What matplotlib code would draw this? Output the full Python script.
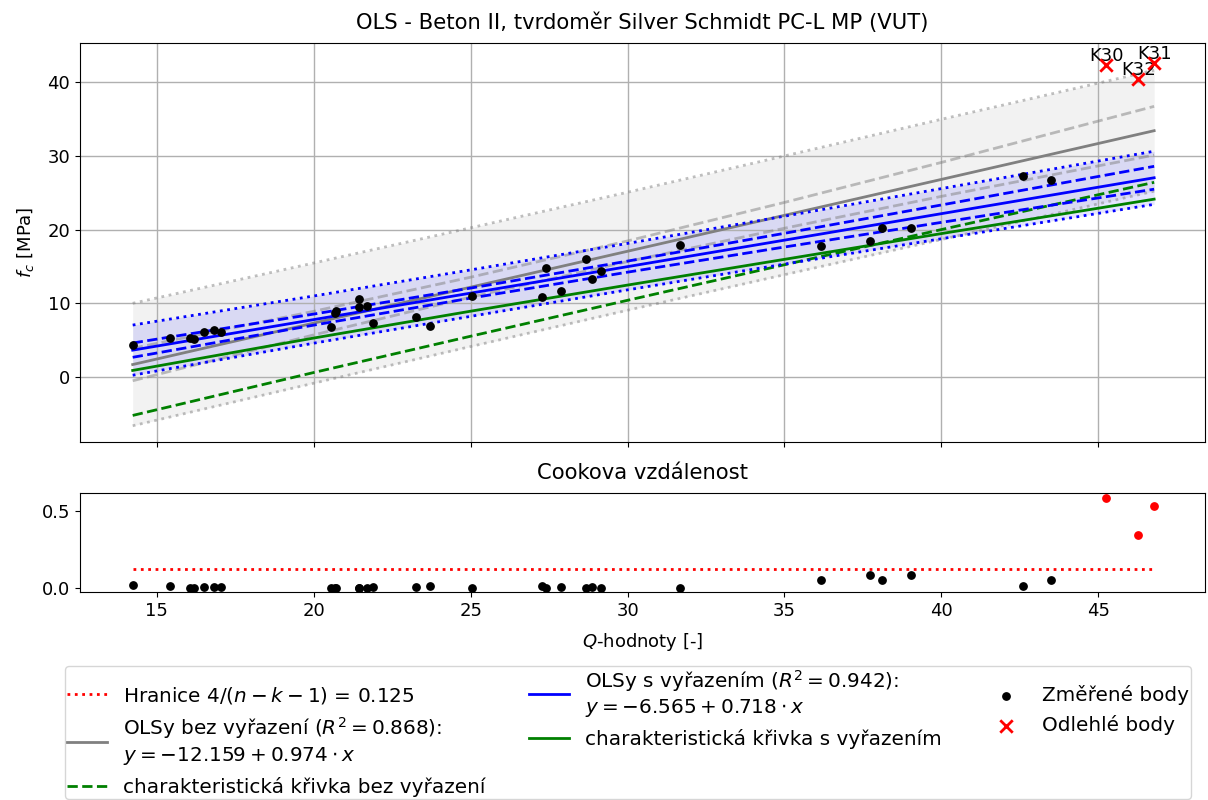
import numpy as np
import matplotlib
matplotlib.use('Agg')
import matplotlib.pyplot as plt

plt.rcParams['font.size'] = 13

# measured points (Q-value, f_c) and their Cook's distance
q_meas = [14.23, 15.41, 16.06, 16.19, 16.50, 16.82, 17.04,
          20.55, 20.67, 20.72, 21.44, 21.44, 21.71, 21.89,
          23.25, 23.72, 25.04, 27.27, 27.41, 27.87, 28.66, 28.86, 29.16,
          31.66, 36.15, 37.71, 38.10, 39.04, 42.60, 43.50]
fc_meas = [4.30, 5.25, 5.30, 5.10, 6.06, 6.38, 6.15,
           6.74, 8.70, 9.00, 10.58, 9.54, 9.63, 7.37,
           8.14, 6.92, 11.03, 10.81, 14.75, 11.67, 16.00, 13.30, 14.38,
           17.90, 17.82, 18.50, 20.26, 20.17, 27.23, 26.73]
cook_meas = [0.016, 0.011, 0.001, 0.001, 0.004, 0.004, 0.002,
             0.001, 0.001, 0.001, 0.001, 0.001, 0.001, 0.002,
             0.004, 0.014, 0.000, 0.009, 0.001, 0.007, 0.001, 0.003, 0.001,
             0.000, 0.048, 0.081, 0.048, 0.081, 0.011, 0.048]

# outliers
q_out = [45.26, 46.27, 46.78]
fc_out = [42.3, 40.4, 42.6]
cook_out = [0.59, 0.344, 0.534]
out_names = ['K30', 'K32', 'K31']

cook_limit = 0.125

# regression coefficients from the legend
b0_all, b1_all, r2_all = -12.159, 0.974, 0.868
b0_cl, b1_cl, r2_cl = -6.565, 0.718, 0.942

# band half-widths / offsets read at these Q values
q_band = [14.23, 20.0, 25.0, 30.0, 35.0, 40.0, 46.78]
pi_all_hw = [8.30, 8.15, 8.05, 8.00, 8.05, 8.15, 8.20]
ci_all_hw = [2.20, 1.60, 1.35, 1.40, 1.75, 2.30, 3.30]
pi_cl_hw = [3.40, 3.20, 3.15, 3.15, 3.25, 3.40, 3.60]
ci_cl_hw = [0.97, 0.75, 0.68, 0.75, 0.93, 1.18, 1.55]
char_all_off = [6.90, 6.70, 6.65, 6.65, 6.70, 6.80, 7.00]
char_cl_off = [2.75, 2.50, 2.45, 2.50, 2.60, 2.70, 2.90]

qb = np.array(q_band)
line_all = b0_all + b1_all * qb
line_cl = b0_cl + b1_cl * qb

fig = plt.figure(figsize=(12.08, 8), dpi=100)
ax = fig.add_axes([0.0662, 0.4475, 0.9313, 0.4988])
ax2 = fig.add_axes([0.0662, 0.26, 0.9313, 0.12375], sharex=ax)

# bands without removal
ax.fill_between(qb, line_all - np.array(pi_all_hw), line_all + np.array(pi_all_hw),
                color='gray', alpha=0.1, lw=0)
ax.plot(qb, line_all + np.array(pi_all_hw), ':', color='gray', alpha=0.5, lw=2)
ax.plot(qb, line_all - np.array(pi_all_hw), ':', color='gray', alpha=0.5, lw=2)
ax.plot(qb, line_all + np.array(ci_all_hw), '--', color='gray', alpha=0.5, lw=2)
ax.plot(qb, line_all - np.array(ci_all_hw), '--', color='gray', alpha=0.5, lw=2)
l_all, = ax.plot(qb, line_all, '-', color='gray', lw=2)
l_char_all, = ax.plot(qb, line_all - np.array(char_all_off), '--', color='green', lw=2)

# bands with removal
ax.fill_between(qb, line_cl - np.array(pi_cl_hw), line_cl + np.array(pi_cl_hw),
                color='blue', alpha=0.1, lw=0)
ax.plot(qb, line_cl + np.array(pi_cl_hw), ':', color='blue', lw=2)
ax.plot(qb, line_cl - np.array(pi_cl_hw), ':', color='blue', lw=2)
ax.plot(qb, line_cl + np.array(ci_cl_hw), '--', color='blue', lw=2)
ax.plot(qb, line_cl - np.array(ci_cl_hw), '--', color='blue', lw=2)
l_cl, = ax.plot(qb, line_cl, '-', color='blue', lw=2)
l_char_cl, = ax.plot(qb, line_cl - np.array(char_cl_off), '-', color='green', lw=2)

s_meas = ax.scatter(q_meas, fc_meas, s=28, color='black', zorder=5)
s_out = ax.scatter(q_out, fc_out, s=80, marker='x', color='red', linewidths=2, zorder=5)
for q, f, name in zip(q_out, fc_out, out_names):
    ax.text(q, f, name, ha='center', va='bottom', fontsize=13)

ax.set_ylim(-8.8, 45.3)
ax.set_yticks([0, 10, 20, 30, 40])
ax.grid(True, lw=1)
ax.set_ylabel('$f_c$ [MPa]', labelpad=8)
ax.set_title('OLS - Beton II, tvrdoměr Silver Schmidt PC-L MP (VUT)', fontsize=15.2, pad=10)
plt.setp(ax.get_xticklabels(), visible=False)

# Cook's distance
ax2.scatter(q_meas, cook_meas, s=28, color='black')
ax2.scatter(q_out, cook_out, s=28, color='red')
l_lim, = ax2.plot([min(q_meas), max(q_out)], [cook_limit, cook_limit], ':', color='red', lw=2)
ax2.set_ylim(-0.028, 0.62)
ax2.set_yticks([0.0, 0.5])
ax2.set_xlim(12.55, 48.4)
ax2.set_xticks([15, 20, 25, 30, 35, 40, 45])
ax2.set_title('Cookova vzdálenost', fontsize=15.2, pad=10)
ax2.set_xlabel('$Q$-hodnoty [-]', labelpad=8)

handles = [l_lim, l_all, l_char_all, l_cl, l_char_cl, s_meas, s_out]
labels = [r'Hranice $4/(n-k-1)$ = 0.125',
          'OLSy bez vyřazení ($R^2 = %.3f$):\n$y = %.3f + %.3f \\cdot x$' % (r2_all, b0_all, b1_all),
          'charakteristická křivka bez vyřazení',
          'OLSy s vyřazením ($R^2 = %.3f$):\n$y = %.3f + %.3f \\cdot x$' % (r2_cl, b0_cl, b1_cl),
          'charakteristická křivka s vyřazením',
          'Změřené body',
          'Odlehlé body']
fig.legend(handles, labels, ncol=3, loc='upper left', bbox_to_anchor=(0.0455, 0.18),
           fontsize=14.4, columnspacing=2.2, borderpad=0.1)

plt.savefig('out.png', dpi=100)
